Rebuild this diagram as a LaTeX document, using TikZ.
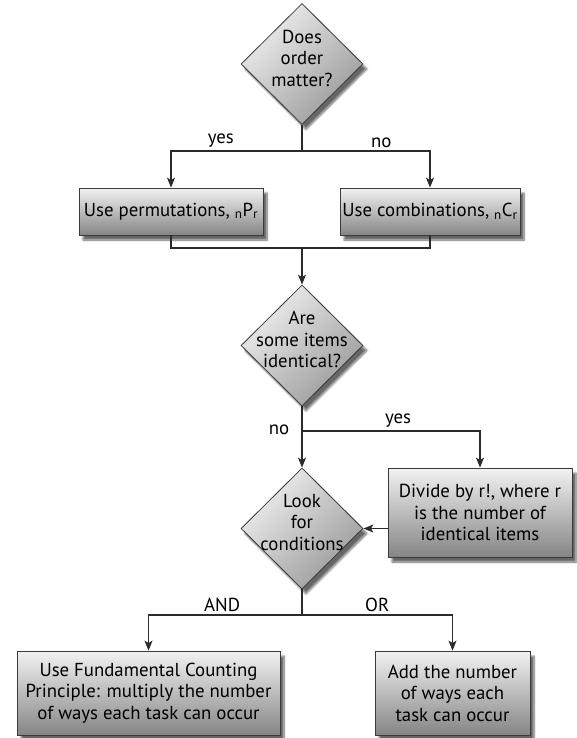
\documentclass[tikz,border=0pt]{standalone}
\usepackage{fontspec}
\setmainfont{PT Sans}
\usetikzlibrary{arrows.meta,shapes.geometric,shadows.blur}
\definecolor{boxTop}{HTML}{F2F2F2}
\definecolor{boxBottom}{HTML}{858585}
\definecolor{diaTop}{HTML}{EFEFEF}
\definecolor{diaBottom}{HTML}{9A9A9A}
\definecolor{edgeGray}{HTML}{3A3A3A}
\definecolor{wireGray}{HTML}{2B2B2B}

\begin{document}
\begin{tikzpicture}[x=1pt, y=-1pt,
        font=\fontsize{18.8}{21.5}\selectfont,
        procbox/.style={draw=edgeGray, line width=0.8pt, top color=boxTop, bottom color=boxBottom, align=center, inner sep=0pt, blur shadow={shadow xshift=4pt, shadow yshift=-5pt, shadow blur steps=8, shadow opacity=60}},
        decision/.style={diamond, draw=edgeGray, line width=0.8pt, top color=diaTop, bottom color=diaBottom, shading angle=45, minimum width=122pt, minimum height=121pt, inner sep=0pt, blur shadow={shadow xshift=4pt, shadow yshift=-5pt, shadow blur steps=8, shadow opacity=60}},
        dtext/.style={align=center, inner sep=0pt, yshift=6pt},
        arr/.style={-{Stealth[length=10pt, width=8pt, inset=2.5pt]}, line width=1.1pt, draw=wireGray},
        wire/.style={line width=1.1pt, draw=wireGray},
        lbl/.style={above=3pt, inner sep=0pt}
    ]
        \useasboundingbox (0,0) rectangle (576,738);

        % --- does order matter? ---
        \node[decision, label={[dtext]center:Does\\order\\matter?}] (order) at (302,64) {};
        \node[procbox, minimum width=184pt, minimum height=47pt] (perm) at (171,211.5) {Use permutations, \textsubscript{n}P\textsubscript{r}};
        \node[procbox, minimum width=180pt, minimum height=47pt] (comb) at (430,211.5) {Use combinations, \textsubscript{n}C\textsubscript{r}};
        \coordinate (split1) at (302,151);
        \coordinate (merge1) at (302,248);
        \draw[wire] (order.south) -- (split1);
        \draw[arr] (split1) -| (perm.north) node[lbl, pos=0.31] {yes};
        \draw[arr] (split1) -| (comb.north) node[lbl, pos=0.31] {no};
        \draw[wire] (perm.south) -- (perm.south |- merge1) -- (comb.south |- merge1) -- (comb.south);

        % --- identical items ---
        \node[decision, label={[dtext]center:Are\\some items\\identical?}] (ident) at (302,345.5) {};
        \draw[arr] (merge1) -- (ident.north);
        \node[decision, label={[dtext]center:Look\\for\\conditions}] (cond) at (302,528.5) {};
        \node[procbox, minimum width=184pt, minimum height=89pt] (divide) at (480,512.5) {Divide by r!, where r\\is the number of\\identical items};
        \coordinate (split2) at (302,431);
        \draw[wire] (ident.south) -- (split2) node[left=9pt, yshift=1pt] {no};
        \draw[arr] (split2) -- (cond.north);
        \draw[arr] (split2) -| (divide.north) node[lbl, pos=0.27] {yes};
        \draw[arr] (divide.west |- cond.east) -- (cond.east);

        % --- conditions ---
        \node[procbox, minimum width=263pt, minimum height=84pt] (fcp) at (148.5,693) {Use Fundamental Counting\\Principle: multiply the number\\of ways each task can occur};
        \node[procbox, minimum width=155pt, minimum height=84pt] (addup) at (452.5,693) {Add the number\\of ways each\\task can occur};
        \coordinate (split3) at (302,615);
        \draw[wire] (cond.south) -- (split3);
        \draw[arr] (split3) -| (fcp.north) node[lbl, pos=0.26] {AND};
        \draw[arr] (split3) -| (addup.north) node[lbl, pos=0.25] {OR};
    \end{tikzpicture}
\end{document}
